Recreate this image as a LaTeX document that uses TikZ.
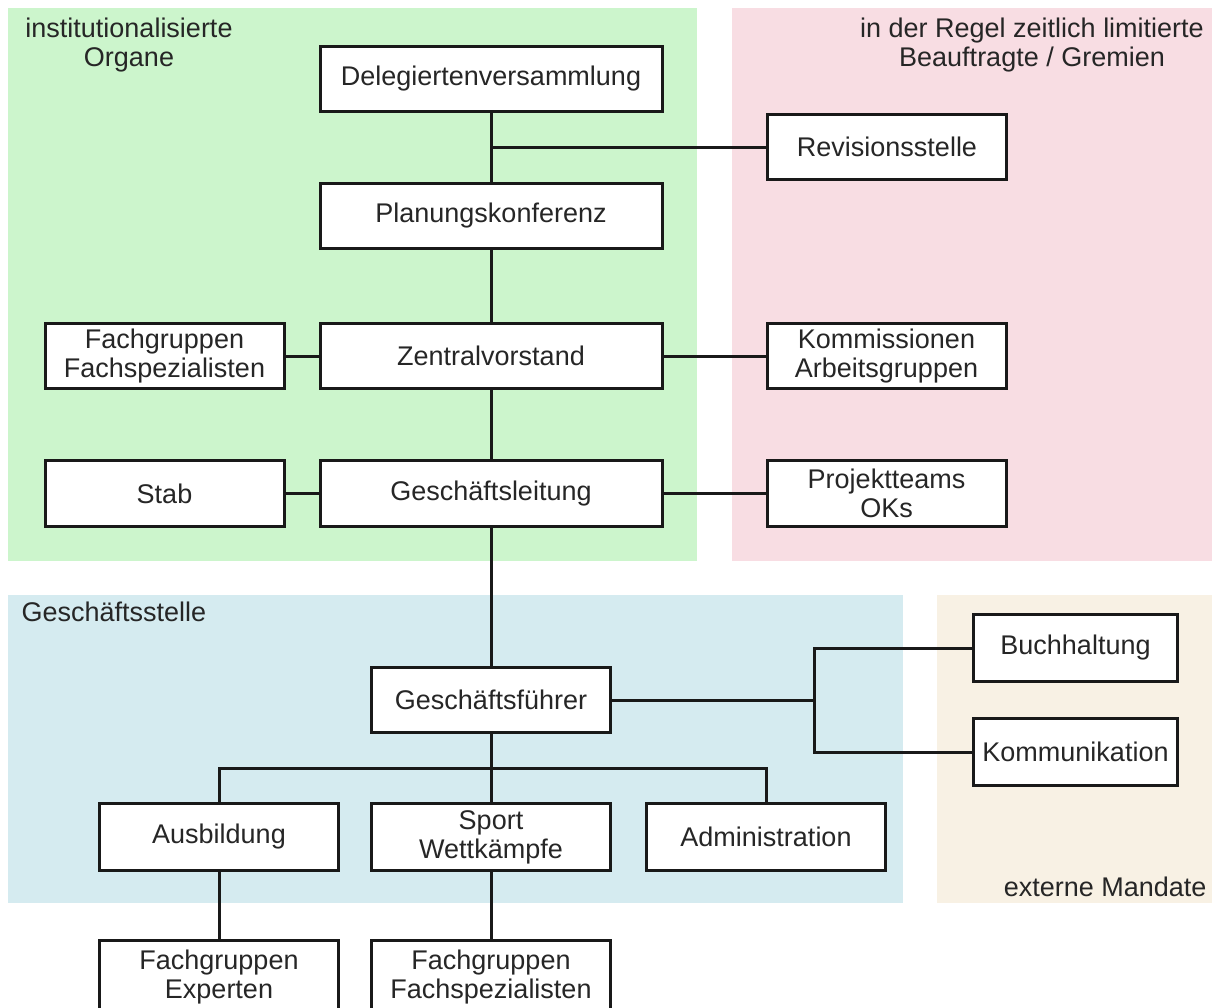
\documentclass[tikz,border=0pt]{standalone}
\usepackage{fontspec}
\setmainfont{Liberation Sans}
\usetikzlibrary{positioning}
\definecolor{gruen}{RGB}{204,245,204}
\definecolor{rosa}{RGB}{248,221,227}
\definecolor{hellblau}{RGB}{213,235,240}
\definecolor{beige}{RGB}{248,241,228}

\begin{document}
\begin{tikzpicture}[x=1pt,y=-1pt,line width=3pt,node distance=70pt,
                    font=\fontsize{27}{29}\selectfont]
\tikzstyle{box}=[rectangle,line width=3pt,draw=black!90,fill=white,text=black!85,minimum width=342pt,minimum height=65pt,align=center,inner sep=2pt]
\tikzstyle{sbox}=[box,minimum width=239pt]
\tikzstyle{kbox}=[box,minimum width=204pt,minimum height=67pt]
\tikzstyle{ubox}=[box,minimum width=239pt,minimum height=67pt]
\tikzstyle{lbl}=[text=black!85,align=center,inner sep=0pt]
\tikzstyle{verb}=[line width=3pt,draw=black!90]

\useasboundingbox (0,0) rectangle (1212,1007);
\fill[white] (0,0) rectangle (1212,1007);

% Bereiche
\fill[gruen] (8,8) rectangle (697,561);
\fill[rosa] (732,8) rectangle (1212,561);
\fill[hellblau] (8,595) rectangle (903,903);
\fill[beige] (937,595) rectangle (1212,903);

\node[lbl] (lbl_organe) at (129,45) {institutionalisierte\\Organe};
\node[lbl] (lbl_gremien) at (1032,45) {in der Regel zeitlich limitierte\\Beauftragte / Gremien};
\node[lbl,anchor=west] (lbl_gs) at (20,612) {Geschäftsstelle};
\node[lbl,anchor=east] (lbl_ext) at (1208,887) {externe Mandate};

% Organe
\node[box] (dv) at (491,79) {Delegiertenversammlung};
\coordinate[below=34pt of dv] (j_rev);
\node[sbox] (rev) [right=275pt of j_rev] {Revisionsstelle};
\node[box] (pk) [below=69pt of dv] {Planungskonferenz};
\node[box] (zv) [below=72pt of pk] {Zentralvorstand};
\node[sbox] (fg_zv) [left=33pt of zv] {Fachgruppen\\Fachspezialisten};
\node[sbox] (kom) [right=102pt of zv] {Kommissionen\\Arbeitsgruppen};
\node[box,minimum height=66pt] (gl) [below=69pt of zv] {Geschäftsleitung};
\node[sbox,minimum height=66pt] (stab) [left=33pt of gl] {Stab};
\node[sbox,minimum height=66pt] (pro) [right=102pt of gl] {Projektteams\\OKs};

% Geschaeftsstelle
\node[sbox] (gf) [below=138pt of gl] {Geschäftsführer};
\coordinate[right=202pt of gf] (j_gf);
\node[kbox] (buch) [above right=17pt and 158pt of j_gf] {Buchhaltung};
\node[kbox] (komm) [below right=17pt and 158pt of j_gf] {Kommunikation};
\coordinate[below=34pt of gf] (j_bar);
\node[ubox] (sport) [below=68pt of gf] {Sport\\Wettkämpfe};
\node[ubox] (aus) [left=30pt of sport] {Ausbildung};
\node[ubox] (adm) [right=33pt of sport] {Administration};
\node[ubox,minimum height=74pt] (fg_aus) [below=67pt of aus] {Fachgruppen\\Experten};
\node[ubox,minimum height=74pt] (fg_sport) [below=67pt of sport] {Fachgruppen\\Fachspezialisten};

% Verbindungen
\draw[verb] (dv) -- (pk);
\draw[verb] (j_rev) -- (rev);
\draw[verb] (pk) -- (zv);
\draw[verb] (fg_zv) -- (zv);
\draw[verb] (zv) -- (kom);
\draw[verb] (zv) -- (gl);
\draw[verb] (stab) -- (gl);
\draw[verb] (gl) -- (pro);
\draw[verb] (gl) -- (gf);
\draw[verb] (gf) -- (j_gf);
\draw[verb] (buch.west) -| (j_gf) |- (komm.west);
\draw[verb] (gf) -- (sport);
\draw[verb] (aus.north) |- (j_bar) -| (adm.north);
\draw[verb] (aus) -- (fg_aus);
\draw[verb] (sport) -- (fg_sport);
\end{tikzpicture}
\end{document}
